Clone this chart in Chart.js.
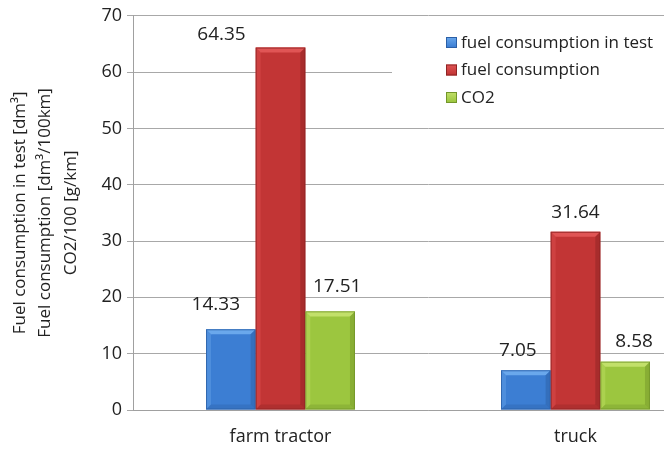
<!DOCTYPE html>
<html>
<head>
<meta charset="utf-8">
<script src="https://cdn.jsdelivr.net/npm/chart.js@4"></script>
<style>
  html, body { margin: 0; padding: 0; background: #fff; overflow: hidden; }
  #wrap { width: 664px; height: 457px; overflow: hidden; }
</style>
</head>
<body>
<div id="wrap"><canvas id="chart" width="724" height="457"></canvas></div>
<script>
// data
const categories = ['farm tractor', 'truck'];
const seriesNames = ['fuel consumption in test', 'fuel consumption', 'CO2'];
const fuelTest = [14.33, 7.05];
const fuelConsumption = [64.35, 31.64];
const co2 = [17.51, 8.58];
const yTicks = [0, 10, 20, 30, 40, 50, 60, 70];
const yTitle = ['Fuel consumption in test [dm³]', 'Fuel consumption [dm³/100km]', 'CO2/100 [g/km]'];

// look
const FONT = 'Open Sans';
const palette = [
    { face: '#3c7ed3', light: '#6aa8ec', dark: '#2b5fa6' },
    { face: '#c23535', light: '#e05555', dark: '#8e2424' },
    { face: '#9cc63f', light: '#c2e06a', dark: '#73962a' }
];
// label nudges (px) from the bar top centre, like Excel placed them
const labelShift = [
    [[-15, -25], [-8, -20]],
    [[-59, -13], [0, -19]],
    [[7, -25], [9, -20]]
];

const bevelPlugin = {
    id: 'bevel',
    afterDatasetsDraw(chart) {
        const ctx = chart.ctx;
        chart.data.datasets.forEach((ds, di) => {
            const c = palette[di];
            chart.getDatasetMeta(di).data.forEach(bar => {
                const l = bar.x - bar.width / 2, r = bar.x + bar.width / 2;
                const t = bar.y, b = bar.base, e = 5;
                ctx.save();
                // top
                ctx.fillStyle = c.light;
                ctx.beginPath();
                ctx.moveTo(l, t); ctx.lineTo(r, t); ctx.lineTo(r - e, t + e); ctx.lineTo(l + e, t + e);
                ctx.fill();
                // left
                ctx.globalAlpha = 0.4;
                ctx.beginPath();
                ctx.moveTo(l, t); ctx.lineTo(l + e, t + e); ctx.lineTo(l + e, b - e); ctx.lineTo(l, b);
                ctx.fill();
                // right + bottom
                ctx.globalAlpha = 0.5;
                ctx.fillStyle = c.dark;
                ctx.beginPath();
                ctx.moveTo(r, t); ctx.lineTo(r - e, t + e); ctx.lineTo(r - e, b - e); ctx.lineTo(r, b);
                ctx.fill();
                ctx.globalAlpha = 0.35;
                ctx.beginPath();
                ctx.moveTo(l, b); ctx.lineTo(l + e, b - e); ctx.lineTo(r - e, b - e); ctx.lineTo(r, b);
                ctx.fill();
                ctx.globalAlpha = 0.8;
                ctx.strokeStyle = c.dark;
                ctx.lineWidth = 1;
                ctx.strokeRect(l + 0.5, t + 0.5, r - l - 1, b - t - 1);
                ctx.restore();
            });
        });
    }
};

const valueLabels = {
    id: 'valueLabels',
    afterDraw(chart) {
        const ctx = chart.ctx;
        ctx.save();
        ctx.font = '19px "' + FONT + '"';
        ctx.fillStyle = '#222';
        ctx.textAlign = 'center';
        ctx.textBaseline = 'middle';
        chart.data.datasets.forEach((ds, di) => {
            chart.getDatasetMeta(di).data.forEach((bar, i) => {
                const s = labelShift[di][i];
                ctx.fillText(ds.data[i].toFixed(2), bar.x + s[0], bar.y + s[1]);
            });
        });
        ctx.restore();
    }
};

const boxLegend = {
    id: 'boxLegend',
    beforeDatasetsDraw(chart) {
        const ctx = chart.ctx;
        ctx.save();
        ctx.fillStyle = '#fff';
        ctx.fillRect(392, 20, 340, 100);
        ctx.font = '17px "' + FONT + '"';
        ctx.textBaseline = 'middle';
        chart.data.datasets.forEach((ds, di) => {
            const y = 42 + di * 27.5;
            const c = palette[di];
            const g = ctx.createLinearGradient(0, y - 5, 0, y + 5);
            g.addColorStop(0, c.light);
            g.addColorStop(1, c.face);
            ctx.fillStyle = g;
            ctx.fillRect(446, y - 5, 11, 11);
            ctx.strokeStyle = c.dark;
            ctx.strokeRect(446.5, y - 4.5, 10, 10);
            ctx.fillStyle = '#222';
            ctx.fillText(ds.label, 461, y + 1);
        });
        ctx.restore();
    }
};

const seriesValues = [fuelTest, fuelConsumption, co2];

new Chart(document.getElementById('chart').getContext('2d'), {
    type: 'bar',
    data: {
        labels: categories,
        datasets: seriesNames.map((name, i) => ({
            label: name,
            data: seriesValues[i],
            backgroundColor: palette[i].face,
            borderWidth: 0,
            categoryPercentage: 0.505,
            barPercentage: 1.0
        }))
    },
    options: {
        responsive: false,
        animation: false,
        layout: { padding: { top: 14, right: 1, left: 0, bottom: 0 } },
        plugins: {
            legend: { display: false },
            tooltip: { enabled: false }
        },
        scales: {
            x: {
                grid: { display: false },
                border: { color: '#a0a0a0' },
                ticks: { color: '#222', font: { family: FONT, size: 18 }, padding: 8 },
                afterFit(scale) { scale.height = 47; }
            },
            y: {
                min: 0,
                max: 70,
                afterBuildTicks(scale) { scale.ticks = yTicks.map(v => ({ value: v })); },
                grid: { color: '#a8a8a8', tickLength: 6 },
                border: { color: '#a0a0a0' },
                ticks: { color: '#222', font: { family: FONT, size: 18 }, padding: 5 },
                title: {
                    display: true,
                    text: yTitle,
                    color: '#222',
                    font: { family: FONT, size: 17, lineHeight: 1.5 },
                    padding: { top: 7, bottom: 0 }
                },
                afterFit(scale) { scale.width = 133; }
            }
        }
    },
    plugins: [bevelPlugin, boxLegend, valueLabels]
});
</script>
</body>
</html>
